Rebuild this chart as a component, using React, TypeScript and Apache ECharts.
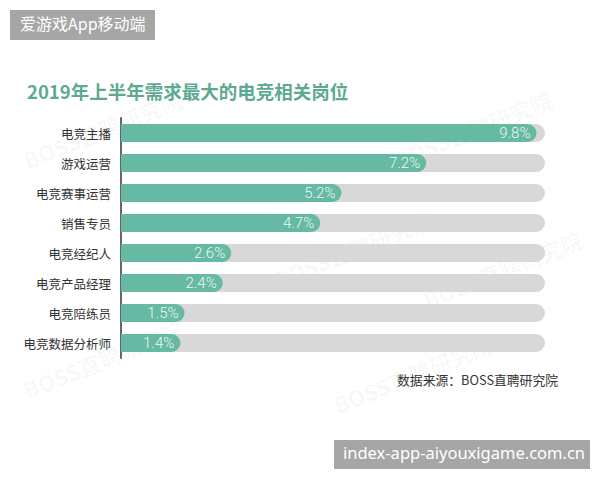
import React, { useEffect, useRef } from "react";
import * as echarts from "echarts";

const categories = ["电竞主播", "游戏运营", "电竞赛事运营", "销售专员", "电竞经纪人", "电竞产品经理", "电竞陪练员", "电竞数据分析师"];
const values = [9.8, 7.2, 5.2, 4.7, 2.6, 2.4, 1.5, 1.4];
const titleText = "2019年上半年需求最大的电竞相关岗位";
const sourceText = "数据来源：BOSS直聘研究院";
const topBadge = "爱游戏App移动端";
const bottomBadge = "index-app-aiyouxigame.com.cn";
const watermarkText = "BOSS直聘研究院";

const CJK = '"Noto Sans CJK SC", "Noto Sans", sans-serif';

export default function App() {
  const ref = useRef<HTMLDivElement>(null);
  useEffect(() => {
    if (!ref.current) return;
    const chart = echarts.init(ref.current, null, { renderer: "svg" });
    const cats = [...categories].reverse();
    const vals = [...values].reverse();
    const marks = [
      [20, 150],
      [390, 150],
      [270, 270],
      [420, 290],
      [20, 380],
      [330, 395],
    ].map(([x, y]) => ({
      type: "text",
      x,
      y,
      rotation: 0.38,
      z: -10,
      style: {
        text: watermarkText,
        fill: "rgba(0,0,0,0.03)",
        fontSize: 22,
        fontWeight: "bold",
        fontFamily: CJK,
      },
    }));
    chart.setOption({
      animation: false,
      backgroundColor: "#ffffff",
      grid: { left: 121, right: 55, top: 118, bottom: 122, containLabel: false },
      xAxis: {
        type: "value",
        min: 0,
        max: 10,
        show: false,
      },
      yAxis: {
        type: "category",
        data: cats,
        axisLine: { show: true, lineStyle: { color: "#666666", width: 2 } },
        axisTick: { show: false },
        axisLabel: { color: "#333333", fontSize: 12.5, fontFamily: CJK, margin: 10 },
      },
      series: [
        {
          type: "bar",
          data: vals,
          barWidth: 18,
          showBackground: true,
          backgroundStyle: { color: "#d8d8d8", borderRadius: [0, 9, 9, 0] },
          itemStyle: { color: "#66b9a2", borderRadius: [0, 9, 9, 0] },
          label: {
            show: true,
            position: "insideRight",
            formatter: "{c}%",
            color: "#eef8f4",
            fontSize: 15,
            fontWeight: 300,
            fontFamily: "Roboto, sans-serif",
            offset: [-1, 0],
          },
        },
      ],
      graphic: [
        ...marks,
        { type: "rect", left: 10, top: 10, shape: { width: 145, height: 30 }, style: { fill: "#a6a6a6" } },
        {
          type: "text",
          left: 20,
          top: 15,
          style: { text: topBadge, fill: "#ffffff", fontSize: 16, fontFamily: CJK },
        },
        {
          type: "text",
          left: 27,
          top: 82,
          style: { text: titleText, fill: "#5daa90", fontSize: 18.5, fontWeight: "bold", fontFamily: CJK },
        },
        {
          type: "text",
          right: 42,
          top: 373,
          style: { text: sourceText, fill: "#333333", fontSize: 12.8, fontFamily: CJK },
        },
        { type: "rect", left: 334, top: 440, shape: { width: 256, height: 29 }, style: { fill: "#a6a6a6" } },
        {
          type: "text",
          left: 343,
          top: 444,
          style: { text: bottomBadge, fill: "#ffffff", fontSize: 16.5, fontFamily: '"Noto Sans", sans-serif' },
        },
      ],
    });
    return () => chart.dispose();
  }, []);
  return (
    <div
      ref={ref}
      style={{ position: "fixed", left: 0, top: 0, width: 600, height: 480 }}
    />
  );
}
